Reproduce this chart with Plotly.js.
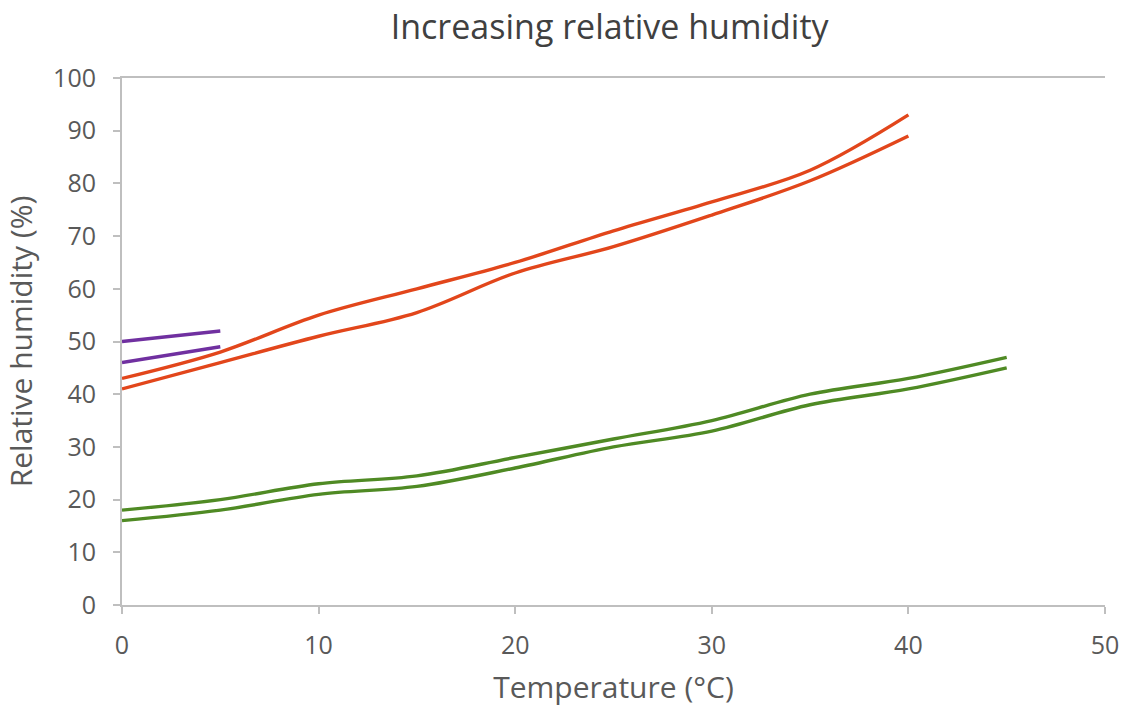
<!DOCTYPE html>
<html>
<head>
<meta charset="utf-8">
<script src="https://cdn.plot.ly/plotly-3.0.1.min.js"></script>
<style>html,body{margin:0;padding:0;background:#fff;}#chart{width:1129px;height:713px;}</style>
</head>
<body>
<div id="chart"></div>
<script>
// Data
const tempRed = [0, 5, 10, 15, 20, 25, 30, 35, 40];
const redUpper = [43, 48, 55, 60, 65, 71, 76.5, 82.5, 93];
const redLower = [41, 46, 51, 55.5, 63, 68, 74, 80.5, 89];

const tempGreen = [0, 5, 10, 15, 20, 25, 30, 35, 40, 45];
const greenUpper = [18, 20, 23, 24.5, 28, 31.5, 35, 40, 43, 47];
const greenLower = [16, 18, 21, 22.5, 26, 30, 33, 38, 41, 45];

const tempPurple = [0, 5];
const purpleUpper = [50, 52];
const purpleLower = [46, 49];

const xTicks = [0, 10, 20, 30, 40, 50];
const yTicks = [0, 10, 20, 30, 40, 50, 60, 70, 80, 90, 100];

const RED = '#E2461B', GREEN = '#4F8A24', PURPLE = '#7030A0';
function tr(x, y, c) {
  return {x: x, y: y, type: 'scatter', mode: 'lines',
    line: {color: c, width: 3.4, shape: 'spline', smoothing: 1.0},
    hoverinfo: 'x+y', showlegend: false};
}
const data = [
  tr(tempGreen, greenUpper, GREEN), tr(tempGreen, greenLower, GREEN),
  tr(tempRed, redUpper, RED), tr(tempRed, redLower, RED),
  tr(tempPurple, purpleUpper, PURPLE), tr(tempPurple, purpleLower, PURPLE)
];
const FONT = 'Open Sans, Liberation Sans, sans-serif';
const layout = {
  width: 1129, height: 713,
  margin: {l: 122, r: 24, t: 78, b: 108},
  paper_bgcolor: '#fff', plot_bgcolor: '#fff',
  font: {family: FONT, color: '#595959'},
  title: {text: 'Increasing relative humidity', x: 0.54, xanchor: 'center', y: 0.962, yanchor: 'middle',
    font: {size: 34, color: '#404040', family: FONT}},
  xaxis: {range: [0, 50], tickvals: xTicks, ticktext: xTicks.map(String),
    showgrid: false, zeroline: false, showline: true, linecolor: '#BFBFBF', linewidth: 2,
    mirror: true, ticks: 'outside', ticklen: 7, tickcolor: '#BFBFBF', tickwidth: 2,
    ticklabelstandoff: 10,
    tickfont: {size: 25, color: '#595959'},
    title: {text: 'Temperature (°C)', standoff: 17, font: {size: 30, color: '#595959'}}},
  yaxis: {range: [0, 100], tickvals: yTicks, ticktext: yTicks.map(String),
    showgrid: false, zeroline: false, showline: true, linecolor: '#BFBFBF', linewidth: 2,
    ticks: 'outside', ticklen: 7, tickcolor: '#BFBFBF', tickwidth: 2,
    ticklabelstandoff: 12,
    tickfont: {size: 25, color: '#595959'},
    title: {text: 'Relative humidity (%)', standoff: 12, font: {size: 30, color: '#595959'}}}
};
Plotly.newPlot('chart', data, layout, {displayModeBar: false, staticPlot: true});
</script>
</body>
</html>
